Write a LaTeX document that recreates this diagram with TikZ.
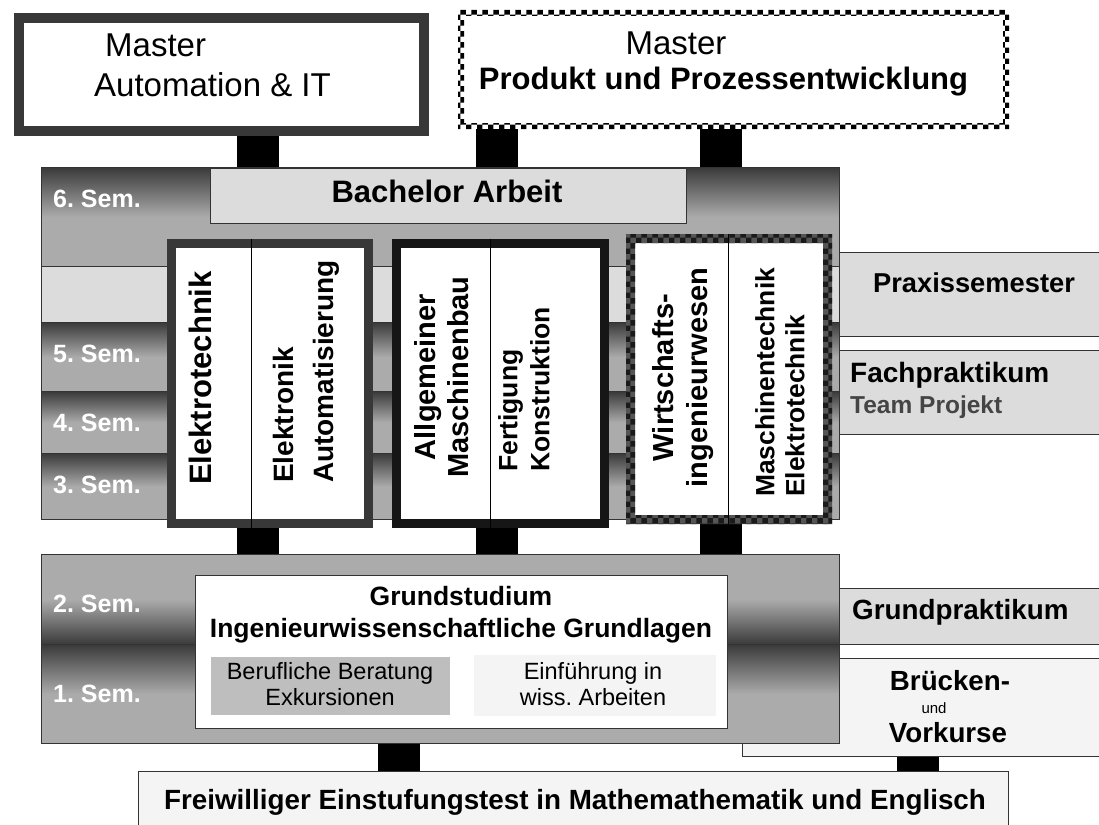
\documentclass[tikz,border=0pt]{standalone}
\usepackage{fontspec}
\setmainfont{Liberation Sans}
\frenchspacing
\usetikzlibrary{patterns,backgrounds}
\definecolor{bandgray}{HTML}{DCDCDC}
\definecolor{rowdark}{HTML}{3A3A3A}
\definecolor{rowlight}{HTML}{ABABAB}
\definecolor{paleface}{HTML}{F4F4F4}
\definecolor{beratgray}{HTML}{BEBEBE}
\definecolor{rimgray}{HTML}{383838}
\definecolor{rimblack}{HTML}{161616}
\definecolor{ringgray}{HTML}{555555}
\definecolor{checkdark}{HTML}{1A1A1A}
\definecolor{teamgray}{HTML}{454545}
\tikzset{
  box/.style={draw=black!80, line width=1pt, inner sep=0pt, anchor=north west},
  rowdown/.style={box, top color=rowdark, bottom color=rowlight, middle color=rowlight},
  rowup/.style={box, top color=rowlight, bottom color=rowdark, middle color=rowlight},
  semlbl/.style={inner sep=0pt, anchor=base west, text=white, font={\fontsize{25}{30}\selectfont\bfseries}},
  txt/.style={inner sep=0pt, anchor=base},
  track/.style={inner sep=0pt, rotate=90},
  bar/.style={line width=42pt, black},
}

\begin{document}
\begin{tikzpicture}[x=1pt,y=-1pt]
\useasboundingbox (0,0) rectangle (1099,824);
\clip (0,0) rectangle (1099,824);

% columns of the black links and the dividers
\coordinate (c1) at (258,0);
\coordinate (c2) at (496.5,0);
\coordinate (c3) at (721,0);
\coordinate (c4) at (399,0);
\coordinate (c5) at (917.5,0);
\coordinate (d1) at (251,0);
\coordinate (d2) at (490,0);
\coordinate (d3) at (728,0);

% master
\node[box, draw=rimgray, line width=10pt, fill=white, minimum width=405pt, minimum height=113pt] (mAuto) at (14,13) {};
\node[txt, anchor=base west, font={\fontsize{33}{40}\selectfont}] (mAutoA) at (105,57) {Master};
\node[txt, anchor=base west, font={\fontsize{33}{40}\selectfont}] (mAutoB) at (94,97) {Automation \& IT};

\node[box, draw=none, fill=white, minimum width=550pt, minimum height=118pt] (mProd) at (458,10) {};
\fill[pattern=checkerboard, even odd rule] (mProd.north west) rectangle (mProd.south east)
  ([shift={(6,6)}]mProd.north west) rectangle ([shift={(-6,-6)}]mProd.south east);
\node[txt, font={\fontsize{33}{40}\selectfont}] (mProdA) at (676,55) {Master};
\node[txt, font={\fontsize{31}{37}\selectfont\bfseries}] (mProdB) at (723.5,90) {Produkt und Prozessentwicklung};

% semester 3 to 6
\node[rowdown, minimum width=798pt, minimum height=99pt] (sem6) at (41,167) {};
\node[box, fill=bandgray, minimum width=798pt, minimum height=56pt] (band) at (41,266) {};
\node[rowdown, minimum width=798pt, minimum height=69pt] (sem5) at (41,322) {};
\node[rowdown, minimum width=798pt, minimum height=62pt] (sem4) at (41,391) {};
\node[rowdown, minimum width=798pt, minimum height=66pt] (sem3) at (41,453) {};
\node[semlbl] (l6) at (53,207) {6. Sem.};
\node[semlbl] (l5) at (53,362) {5. Sem.};
\node[semlbl] (l4) at (53,431) {4. Sem.};
\node[semlbl] (l3) at (53,493) {3. Sem.};

\node[box, fill=bandgray, minimum width=476pt, minimum height=55pt] (bach) at (210,168) {};
\node[txt, font={\fontsize{31}{37}\selectfont\bfseries}] (bachT) at (447,202) {Bachelor Arbeit};

\node[box, fill=bandgray, minimum width=266pt, minimum height=84pt] (praxis) at (839,252) {};
\node[txt, font={\fontsize{27.3}{33}\selectfont\bfseries}] (praxisT) at (974,292) {Praxissemester};
\node[box, fill=bandgray, minimum width=266pt, minimum height=84pt] (fach) at (839,350) {};
\node[txt, anchor=base west, font={\fontsize{28}{33}\selectfont\bfseries}] (fachA) at (850,382) {Fachpraktikum};
\node[txt, anchor=base west, text=teamgray, font={\fontsize{24.5}{30}\selectfont\bfseries}] (fachB) at (850,413) {Team Projekt};

% studienrichtungen
\node[box, draw=rimgray, line width=9pt, fill=white, minimum width=197pt, minimum height=280pt] (t1) at (166.5,238.5) {};
\node[box, draw=rimblack, line width=9pt, fill=white, minimum width=208pt, minimum height=280pt] (t2) at (391.5,238.5) {};
\node[box, draw=none, fill=white, minimum width=205pt, minimum height=289pt] (t3) at (626,234) {};
\fill[ringgray, even odd rule] (t3.north west) rectangle (t3.south east)
  ([shift={(9,9)}]t3.north west) rectangle ([shift={(-9,-9)}]t3.south east);
\fill[pattern=checkerboard, pattern color=checkdark, even odd rule] (t3.north west) rectangle (t3.south east)
  ([shift={(9,9)}]t3.north west) rectangle ([shift={(-9,-9)}]t3.south east);
\draw[line width=1pt] (t1.north -| d1) -- (t1.south -| d1);
\draw[line width=1pt] (t2.north -| d2) -- (t2.south -| d2);
\draw[line width=1pt] (t3.north -| d3) -- (t3.south -| d3);

\node[track, font={\fontsize{31}{37}\selectfont\bfseries}] (tx1) at (200.5,378) {Elektrotechnik};
\node[track, anchor=west, align=left, font={\fontsize{28}{40}\selectfont\bfseries}] (tx2) at (306,483) {Elektronik\\Automatisierung};
\node[track, align=center, font={\fontsize{29}{33}\selectfont\bfseries}] (tx3) at (442,377) {Allgemeiner\\Maschinenbau};
\node[track, anchor=west, align=left, font={\fontsize{26.5}{32}\selectfont\bfseries}] (tx4) at (524,472) {Fertigung\\Konstruktion};
\node[track, align=center, font={\fontsize{29}{34}\selectfont\bfseries}] (tx5) at (683.5,377.5) {Wirtschafts-\\ingenieurwesen};
\node[track, anchor=west, align=left, font={\fontsize{26.4}{30}\selectfont\bfseries}] (tx6) at (780,497) {Maschinentechnik\\Elektrotechnik};

% grundstudium
\node[box, fill=paleface, minimum width=363pt, minimum height=98pt] (bruecken) at (742,658) {};
\node[txt, font={\fontsize{27.7}{33}\selectfont\bfseries}] (brueckenA) at (950,690) {Brücken-};
\node[txt, font={\fontsize{15}{18}\selectfont}] (brueckenB) at (934,713) {und};
\node[txt, font={\fontsize{27.7}{33}\selectfont\bfseries}] (brueckenC) at (948,742) {Vorkurse};

\node[rowup, minimum width=798pt, minimum height=90pt] (sem2) at (41,554) {};
\node[rowdown, minimum width=798pt, minimum height=99pt] (sem1) at (41,644) {};
\node[semlbl] (l2) at (53,612) {2. Sem.};
\node[semlbl] (l1) at (53,702) {1. Sem.};

\node[box, fill=bandgray, minimum width=266pt, minimum height=56pt] (gprak) at (839,588) {};
\node[txt, anchor=base west, font={\fontsize{27.8}{33}\selectfont\bfseries}] (gprakT) at (852,619) {Grundpraktikum};

\node[box, fill=white, minimum width=532pt, minimum height=153pt] (grund) at (195,575) {};
\node[txt, font={\fontsize{26.5}{32}\selectfont\bfseries}] (grundA) at (461,605) {Grundstudium};
\node[txt, font={\fontsize{26.5}{32}\selectfont\bfseries}] (grundB) at (461,637) {Ingenieurwissenschaftliche Grundlagen};
\node[box, draw=none, fill=beratgray, minimum width=239pt, minimum height=58pt] (berat) at (210,656) {};
\node[txt, font={\fontsize{23.5}{28}\selectfont}] (beratA) at (330,679) {Berufliche Beratung};
\node[txt, font={\fontsize{23.5}{28}\selectfont}] (beratB) at (330,705) {Exkursionen};
\node[box, draw=none, fill=paleface, minimum width=242pt, minimum height=61pt] (einf) at (473,654) {};
\node[txt, font={\fontsize{23.5}{28}\selectfont}] (einfA) at (593,679) {Einführung in};
\node[txt, font={\fontsize{23.5}{28}\selectfont}] (einfB) at (593,705) {wiss. Arbeiten};

\node[box, fill=paleface, minimum width=870pt, minimum height=60pt] (test) at (138,771) {};
\node[txt, font={\fontsize{27.8}{33}\selectfont\bfseries}] (testT) at (575,809) {Freiwilliger Einstufungstest in Mathemathematik und Englisch};

% links
\begin{scope}[on background layer]
\draw[bar] (mAuto.south -| c1) -- (sem6.north -| c1);
\draw[bar] (mProd.south -| c2) -- (sem6.north -| c2);
\draw[bar] (mProd.south -| c3) -- (sem6.north -| c3);
\draw[bar] (t1.south -| c1) -- (sem2.north -| c1);
\draw[bar] (t2.south -| c2) -- (sem2.north -| c2);
\draw[bar] (t3.south -| c3) -- (sem2.north -| c3);
\draw[bar] (sem1.south -| c4) -- (test.north -| c4);
\draw[bar] (bruecken.south -| c5) -- (test.north -| c5);
\end{scope}
\end{tikzpicture}
\end{document}
